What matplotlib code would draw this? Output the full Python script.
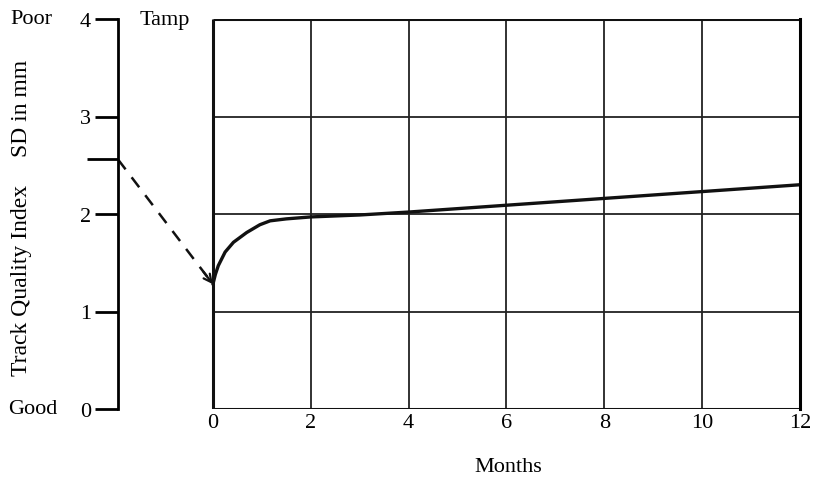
import numpy as np
import matplotlib.pyplot as plt

plt.rcParams['font.family'] = ['Liberation Serif', 'DejaVu Serif']

# Track quality after tamping
months = [0, 0.05, 0.11, 0.25, 0.42, 0.69, 0.96, 1.17, 1.5, 2, 3, 4, 6, 8, 10, 12]
tqi = [1.28, 1.38, 1.47, 1.61, 1.71, 1.81, 1.89, 1.93, 1.95, 1.97, 1.99, 2.02,
       2.09, 2.16, 2.23, 2.30]

before_tamp = 2.56      # SD before tamping
after_tamp = 1.28       # SD right after tamping
x_left = -1.94          # position of the quality-index axis (months)

month_ticks = [0, 2, 4, 6, 8, 10, 12]
sd_ticks = [0, 1, 2, 3, 4]

fig = plt.figure(figsize=(8.17, 4.85), dpi=100)
ax = fig.add_axes([118 / 817, 1 - 410 / 485, 682 / 817, 390 / 485])
ax.set_xlim(x_left, 12)
ax.set_ylim(0, 4)

for s in ['top', 'bottom']:
    ax.spines[s].set_visible(False)
ax.spines['left'].set_linewidth(2)
ax.spines['right'].set_linewidth(2.2)

# box + grid
ax.vlines(month_ticks[1:-1], 0, 4, color='#222', lw=1.3)
ax.hlines(sd_ticks[1:-1], 0, 12, color='#222', lw=1.3)
ax.vlines(0, 0, 4, color='#111', lw=2.2)
ax.hlines([0, 4], 0, 12, color='#111', lw=2.2)

# curve after tamping
ax.plot(months, tqi, color='#111', lw=2.4, solid_capstyle='round',
        solid_joinstyle='round')

# dashed drop at tamping
ax.plot([x_left, 0], [before_tamp, after_tamp], color='#111', lw=1.8,
        linestyle=(0, (5, 4)))
t = 0.9
ax.annotate('', xy=(0, after_tamp),
            xytext=(x_left * (1 - t), before_tamp + t * (after_tamp - before_tamp)),
            arrowprops=dict(arrowstyle='->', color='#111', lw=1.6,
                            shrinkA=0, shrinkB=0, mutation_scale=14))

ax.set_xticks(month_ticks)
ax.set_xticklabels([str(m) for m in month_ticks])
ax.tick_params(axis='x', length=0, pad=3, labelsize=16)
ax.set_yticks(sd_ticks)
ax.set_yticklabels([str(v) for v in sd_ticks])
ax.tick_params(axis='y', length=16.5, width=2, pad=3, labelsize=16)
ax.set_yticks([before_tamp], minor=True)
ax.tick_params(axis='y', which='minor', length=22, width=2)

ax.set_xlabel('Months', fontsize=16)
ax.xaxis.set_label_coords((508 - 118) / 682, -(458 - 410) / 390)

ax.text(-0.98, 4, 'Tamp', ha='center', va='center', fontsize=16)

fig.text(10 / 817, 1 - 20 / 485, 'Poor', ha='left', va='center', fontsize=16)
fig.text(8 / 817, 1 - 410 / 485, 'Good', ha='left', va='center', fontsize=16)
fig.text(22 / 817, 1 - 280 / 485, 'Track Quality Index', rotation=90,
         ha='center', va='center', fontsize=17)
fig.text(22 / 817, 1 - 108 / 485, 'SD in mm', rotation=90,
         ha='center', va='center', fontsize=17)

fig.savefig('out.png', dpi=100)
